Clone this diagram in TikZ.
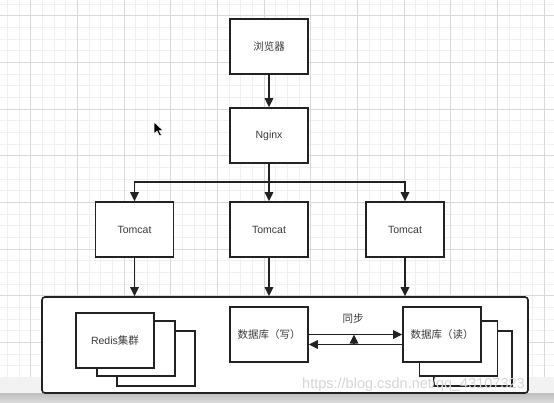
\documentclass[tikz,border=0pt]{standalone}
\usepackage{fontspec}
\setmainfont{Liberation Sans}
\newfontfamily\cjk{Noto Sans CJK SC}
\usetikzlibrary{arrows.meta}
\definecolor{ink}{HTML}{222222}
\definecolor{txt}{HTML}{3A3A3A}
\definecolor{gmin}{HTML}{F0F0F0}
\definecolor{gmaj}{HTML}{D9D9D9}
\tikzset{
  box/.style={draw=ink, line width=1.6pt, fill=white, minimum width=78pt, minimum height=55pt, inner sep=0pt, text=txt, font=\fontsize{10.5}{12}\selectfont},
  pool/.style={draw=ink, line width=1.6pt, fill=white, rounded corners=3pt, minimum width=486pt, minimum height=96pt, inner sep=0pt},
  arr/.style={draw=ink, line width=1.5pt, -{Triangle[length=9pt,width=8.5pt]}},
  lbl/.style={text=txt, font=\fontsize{10.5}{12}\selectfont, inner sep=0pt},
  wmark/.style={text=black!16, font=\fontsize{14.5}{16}\selectfont, inner sep=0pt}
}
\begin{document}
\begin{tikzpicture}[x=1pt,y=-1pt]
\useasboundingbox (0,0) rectangle (554,402);
% background and grid
\fill[white] (0,0) rectangle (554,377);
\foreach \i in {0,...,47} {
  \pgfmathsetmacro{\gx}{floor(7.36+11.667*\i)+0.5}
  \draw[gmin, line width=1pt] (\gx,0) -- (\gx,377);
}
\foreach \j in {0,...,32} {
  \pgfmathsetmacro{\gy}{floor(4.03+11.667*\j)+0.5}
  \draw[gmin, line width=1pt] (0,\gy) -- (554,\gy);
}
\foreach \i in {0,...,11} {
  \pgfmathsetmacro{\gx}{floor(30.7+46.67*\i)+0.5}
  \draw[gmaj, line width=1.2pt] (\gx,0) -- (\gx,377);
}
\foreach \j in {0,...,8} {
  \pgfmathsetmacro{\gy}{floor(15.7+46.67*\j)+0.5}
  \draw[gmaj, line width=1.2pt] (0,\gy) -- (554,\gy);
}
\fill[black!5] (0,377) rectangle (554,393);
\shade[top color=black!25, bottom color=black!15] (0,393) rectangle (554,402);
% cursor
\filldraw[fill=black, draw=white, line width=0.5pt] (154,122) -- (154,134) -- (157,131) -- (159.5,136) -- (161.5,135) -- (159,130.5) -- (163,130.5) -- cycle;
% nodes
\node[box] (browser) at (269,46.5) {\cjk 浏览器};
\node[box] (nginx) at (269,135.5) {Nginx};
\node[box] (t1) at (134.5,229.5) {Tomcat};
\node[box] (t2) at (269,229.5) {Tomcat};
\node[box] (t3) at (405,229.5) {Tomcat};
\node[pool] (pool) at (285,345) {};
\node[box] (redis3) at (156,358.5) {};
\node[box] (redis2) at (136,348.5) {};
\node[box] (redis) at (115,340.5) {Redis{\cjk 集群}};
\node[box] (dbw) at (269,334.5) {\cjk 数据库（写）};
\node[box] (dbr3) at (473,358.5) {};
\node[box] (dbr2) at (458.5,348.5) {};
\node[box] (dbr) at (442,334.5) {\cjk 数据库（读）};
\node[lbl] (sync) at (353,319) {\cjk 同步};
% connectors
\draw[arr] (browser) -- (nginx);
\coordinate (bus) at (269,182);
\draw[arr] (nginx) -- (t2);
\draw[arr] (bus) -| (t1.north);
\draw[arr] (bus) -| (t3.north);
\draw[arr] (t1.south) -- (t1.south |- pool.north);
\draw[arr] (t2.south) -- (t2.south |- pool.north);
\draw[arr] (t3.south) -- (t3.south |- pool.north);
\draw[arr] (dbw.east) -- (dbr.west);
\draw[arr] ([yshift=-10pt]dbr.west) -- ([yshift=-10pt]dbw.east);
\coordinate (syncbase) at (354,344.5);
\draw[arr] (syncbase) -- (syncbase |- dbw.east);
% watermark
\node[wmark, anchor=base west] (wm) at (302,388) {https://blog.csdn.net/qq\_43107323};
\end{tikzpicture}
\end{document}
